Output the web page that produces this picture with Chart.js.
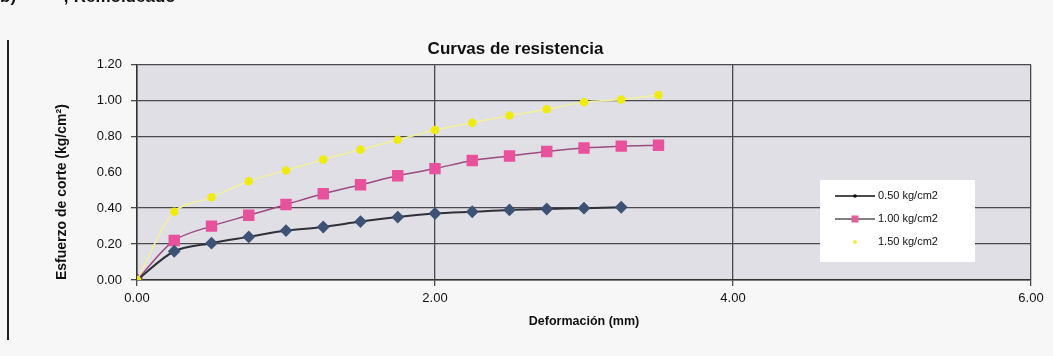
<!DOCTYPE html>
<html>
<head>
<meta charset="utf-8">
<script src="https://cdn.jsdelivr.net/npm/chart.js@4.4.0/dist/chart.umd.min.js"></script>
<style>
    body { margin: 0; background: #f7f7f7; }
    #wrap { position: relative; width: 1053px; height: 356px; overflow: hidden; }
    #head { position: absolute; top: -13px; left: 0; font: bold 17px "Liberation Sans", Arial, sans-serif; color: #111; white-space: pre; }
    #margin { position: absolute; left: 7px; top: 40px; width: 2px; height: 300px; background: #222; }
</style>
</head>
<body>
<div id="wrap">
    <div id="head">b)          ; Remoldeado</div>
    <div id="margin"></div>
    <canvas id="myChart" width="1053" height="356"></canvas>
</div>
<script>
// deformacion (mm) for each reading
const deformacion = [0, 0.25, 0.5, 0.75, 1.0, 1.25, 1.5, 1.75, 2.0, 2.25, 2.5, 2.75, 3.0, 3.25, 3.5];
// esfuerzo de corte (kg/cm2)
const serie050 = [0, 0.16, 0.205, 0.24, 0.275, 0.295, 0.325, 0.35, 0.37, 0.38, 0.39, 0.395, 0.40, 0.405];
const serie100 = [0, 0.22, 0.30, 0.36, 0.42, 0.48, 0.53, 0.58, 0.62, 0.665, 0.69, 0.715, 0.735, 0.745, 0.75];
const serie150 = [0, 0.38, 0.46, 0.55, 0.61, 0.67, 0.725, 0.78, 0.835, 0.875, 0.915, 0.95, 0.99, 1.005, 1.03];
const etiquetas = ['0.50 kg/cm2', '1.00 kg/cm2', '1.50 kg/cm2'];
const titulo = 'Curvas de resistencia';
const tituloX = 'Deformación (mm)';
const tituloY = 'Esfuerzo de corte (kg/cm²)';

const fuente = '"Liberation Sans", Arial, sans-serif';

function puntos(serie) {
    return serie.map((v, i) => ({ x: deformacion[i], y: v }));
}

// grey plot area like the excel print
const fondo = {
    id: 'fondo',
    beforeDraw(chart) {
        const { ctx, chartArea: a } = chart;
        ctx.save();
        ctx.fillStyle = '#dfdfe5';
        ctx.fillRect(a.left, a.top, a.right - a.left, a.bottom - a.top);
        ctx.restore();
    }
};

// legend box inside the plot, right side
const leyenda = {
    id: 'leyenda',
    afterDatasetsDraw(chart) {
        const ctx = chart.ctx;
        const x0 = 820, y0 = 180, w = 155, h = 82;
        ctx.save();
        ctx.fillStyle = '#ffffff';
        ctx.fillRect(x0, y0, w, h);
        ctx.font = '11px ' + fuente;
        ctx.textBaseline = 'middle';
        chart.data.datasets.forEach((ds, i) => {
            const y = y0 + 16 + i * 23;
            ctx.strokeStyle = ds.legendLine;
            ctx.lineWidth = 1.5;
            ctx.beginPath();
            ctx.moveTo(835, y);
            ctx.lineTo(875, y);
            ctx.stroke();
            ctx.fillStyle = ds.legendMark;
            const m = ds.legendSize;
            if (ds.pointStyle === 'rect') ctx.fillRect(855 - m, y - m, 2 * m, 2 * m);
            else { ctx.beginPath(); ctx.arc(855, y, m, 0, Math.PI * 2); ctx.fill(); }
            ctx.fillStyle = '#111';
            ctx.fillText(ds.label, 878, y);
        });
        ctx.restore();
    }
};

const ctx = document.getElementById('myChart').getContext('2d');
const myChart = new Chart(ctx, {
    type: 'line',
    data: {
        datasets: [{
            label: etiquetas[0],
            data: puntos(serie050),
            borderColor: '#30303a',
            borderWidth: 2,
            pointStyle: 'rectRot',
            pointRadius: 5,
            pointBackgroundColor: '#3e5276',
            pointBorderColor: '#3e5276',
            legendLine: '#111', legendMark: '#111', legendSize: 1.8,
            tension: 0.3,
            order: 1
        }, {
            label: etiquetas[1],
            data: puntos(serie100),
            borderColor: '#9c4a80',
            borderWidth: 1.5,
            pointStyle: 'rect',
            pointRadius: 7,
            pointBackgroundColor: '#e8529c',
            pointBorderColor: '#e8529c',
            legendLine: '#555', legendMark: '#e0609a', legendSize: 3.5,
            tension: 0.3,
            order: 2
        }, {
            label: etiquetas[2],
            data: puntos(serie150),
            borderColor: '#f3f19c',
            borderWidth: 1.5,
            pointStyle: 'circle',
            pointRadius: 3.5,
            pointBackgroundColor: '#efeb12',
            pointBorderColor: '#efeb12',
            legendLine: 'rgba(255,255,255,0)', legendMark: '#f2ee30', legendSize: 2,
            tension: 0.3,
            order: 0
        }]
    },
    options: {
        responsive: false,
        animation: false,
        layout: { padding: { top: 0, right: 22, bottom: 0, left: 0 } },
        plugins: {
            legend: { display: false },
            tooltip: { enabled: false },
            title: {
                display: true,
                text: titulo,
                color: '#111',
                font: { family: fuente, size: 17, weight: 'bold' },
                padding: { top: 39, bottom: 5 }
            }
        },
        scales: {
            x: {
                type: 'linear',
                min: 0,
                max: 6,
                afterFit: s => { s.height = 76; },
                ticks: {
                    stepSize: 2,
                    color: '#111',
                    padding: 5,
                    font: { family: fuente, size: 13 },
                    callback: v => v.toFixed(2)
                },
                grid: { color: '#4a4a4e', lineWidth: 1.3, tickLength: 6 },
                border: { color: '#333', width: 1.5 },
                title: {
                    display: true,
                    text: tituloX,
                    color: '#111',
                    font: { family: fuente, size: 12.5, weight: 'bold' },
                    padding: { top: 0, bottom: 27 }
                }
            },
            y: {
                min: 0,
                max: 1.2,
                afterFit: s => { s.width = 137; },
                ticks: {
                    stepSize: 0.2,
                    color: '#111',
                    padding: 9,
                    font: { family: fuente, size: 13 },
                    callback: v => v.toFixed(2)
                },
                grid: {
                    // the 0.60 line is faded out in the print
                    color: c => (c.tick && Math.abs(c.tick.value - 0.6) < 0.001) ? 'rgba(0,0,0,0)' : '#4a4a4e',
                    lineWidth: 1.3,
                    tickLength: 6
                },
                border: { color: '#333', width: 1.5 },
                title: {
                    display: true,
                    text: tituloY,
                    align: 'start',
                    color: '#111',
                    font: { family: fuente, size: 14, weight: 'bold' },
                    padding: { top: 54, bottom: 0 }
                }
            }
        }
    },
    plugins: [fondo, leyenda]
});
</script>
</body>
</html>
